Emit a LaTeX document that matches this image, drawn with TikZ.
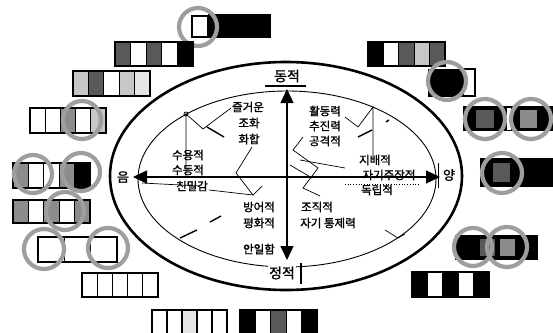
\documentclass[tikz,border=0pt]{standalone}
\usepackage{fontspec}
\newfontfamily\kr{Noto Sans CJK KR}[FakeBold=1.3]
\usetikzlibrary{arrows.meta}
\definecolor{dk}{gray}{0.35}
\definecolor{md}{gray}{0.55}
\definecolor{lt}{gray}{0.78}
\definecolor{vlt}{gray}{0.9}
\definecolor{ringc}{gray}{0.62}
\newcommand\swrow[5]{%
  \foreach \c [count=\i from 0] in {#5} {
    \filldraw[fill=\c, draw=black, line width=1.3] ({#1+\i*#3},#2) rectangle ++(#3,#4);
  }}
\tikzset{
  ring/.style={draw=ringc, line width=4.2},
  lbl/.style={font=\kr\fontsize{11.5}{15}\selectfont, inner sep=0.5pt, align=center},
  axislbl/.style={font=\kr\fontsize{14}{16}\selectfont, inner sep=1pt},
  sidelbl/.style={font=\kr\fontsize{13}{15}\selectfont, inner sep=1pt, fill=white},
  axisline/.style={line width=1.2, -{Triangle[length=14pt,width=13pt]}},
  scrib/.style={line width=0.7},
  dashmark/.style={line width=1.4},
}
\begin{document}
\begin{tikzpicture}[x=1pt,y=-1pt]
\useasboundingbox (0,0) rectangle (553,332);
\fill[white] (0,0) rectangle (553,332);

% ---- ellipses
\draw[line width=2.6] (286,176) ellipse [x radius=176, y radius=114];
\draw[line width=0.9] (287,179) ellipse [x radius=149, y radius=88];

% ---- scribble connectors
\draw[scrib] (231,108) -- (203,129) -- (186,114) -- (186,178);
\draw[scrib] (186,114) circle (2);
\draw[dashmark] (207,127) -- (224,137);
\draw[scrib] (252,147) -- (236,173) -- (253,195);
\draw[scrib] (209,190) -- (253,195) -- (262,186);
\draw[scrib] (142,183) -- (200,186);
\draw[scrib] (303,137) -- (293,150) -- (318,168) -- (303,188) -- (320,196);
\draw[scrib] (290,165) -- (312,178);
\draw[scrib] (345,117) -- (358,127) -- (373,107) -- (373,160);
\draw[dashmark] (358,137) -- (372,130);
\draw[dashmark] (386,122) -- (389,120);
\draw[scrib, dotted, line width=1] (345,184) -- (420,184);
\draw[scrib] (300,160) -- (345,168);
\draw[dashmark] (180,238) -- (197,230);
\draw[dashmark] (210,222) -- (221,216);
\draw[scrib] (385,230) -- (398,238) -- (405,234);

% ---- axes
\coordinate (o) at (287,177);
\coordinate (up) at (287,89);
\coordinate (dn) at (287,260);
\coordinate (lf) at (133,177);
\coordinate (rt) at (440,177);
\draw[axisline] (o) -- (up);
\draw[axisline] (o) -- (dn);
\draw[axisline] (o) -- (lf);
\draw[axisline] (o) -- (rt);

% ---- axis labels
\node[axislbl, fill=white] (dong) at (287,76) {동적};
\draw[line width=1.3] (265,86) -- (306,86);
\node[axislbl, fill=white] (jeong) at (282,273) {정적};
\draw[line width=1.3] (301,263) -- (301,284);
\node[sidelbl] (eum) at (123,177) {음};
\node[sidelbl] (yang) at (449,175) {양};
\draw[line width=1] (438,163) -- (438,188);

% ---- inner texts
\node[lbl] (t1) at (248,107) {즐거운};
\node[lbl] (t2) at (249,123) {조화};
\node[lbl] (t3) at (249,139) {화합};
\node[lbl] (t4) at (188,155) {수용적};
\node[lbl] (t5) at (188,170) {수동적};
\node[lbl] (t6) at (192,186) {친밀감};
\node[lbl] (t7) at (325,111) {활동력};
\node[lbl] (t8) at (325,126) {추진력};
\node[lbl] (t9) at (325,141) {공격적};
\node[lbl] (t10) at (375,160) {지배적};
\node[lbl] (t11) at (389,175) {자기주장적};
\node[lbl] (t12) at (377,190) {독립적};
\node[lbl] (t13) at (259,207) {방어적};
\node[lbl] (t14) at (259,223) {평화적};
\node[lbl] (t15) at (317,207) {조직적};
\node[lbl] (t16) at (328,223) {자기 통제력};
\node[lbl] (t17) at (259,249) {안일함};

% ---- colour swatches, left side
\filldraw[fill=black, draw=black] (208,14) rectangle (270,37);
\filldraw[fill=white, draw=black, line width=1.3] (192,16) rectangle (208,37);
\draw[ring] (198,27) circle (19);

\swrow{115}{42}{15.6}{24}{dk,white,dk,white,black}
\swrow{73}{71}{15.4}{25}{lt,dk,white,lt,vlt}
\swrow{30}{108}{15.2}{25}{white,white,md,white,lt}
\draw[ring] (82,120) circle (19);

\swrow{13}{163}{15.4}{25}{md,white,white,md,black}
\draw[ring] (33,174) circle (19);
\draw[ring] (81,172) circle (19);

\swrow{13}{200}{15.4}{23}{md,white,md,white,md}
\draw[ring] (65,211) circle (19);

\swrow{38}{237}{26.3}{25}{white,white,white}
\draw[ring] (44,249) circle (20);
\draw[ring] (108,248) circle (20);

\swrow{82}{273}{15.2}{24}{white,white,white,white,white}
\swrow{152}{310}{15}{24}{white,white,vlt,white,white}
\swrow{240}{310}{15.4}{24}{black,white,dk,white,black}

% ---- colour swatches, right side
\swrow{368}{42}{15.4}{24}{black,white,dk,lt,dk}

\filldraw[fill=black, draw=black] (428,69) rectangle (463,96);
\filldraw[fill=white, draw=black, line width=1.3] (463,69) rectangle (475,96);
\draw[ring] (447,81) circle (19);

\fill[black] (463,106) rectangle (553,131);
\fill[dk] (476,110) rectangle (494,128);
\fill[white] (507,108) rectangle (511,130);
\fill[md] (520,110) rectangle (537,128);
\draw[ring] (485,119) circle (20);
\draw[ring] (531,119) circle (20);

\fill[black] (480,158) rectangle (553,187);
\fill[dk] (493,163) rectangle (510,182);
\draw[ring] (502,173) circle (20);

\fill[black] (455,235) rectangle (538,260);
\fill[dk] (480,239) rectangle (495,256);
\fill[md] (500,239) rectangle (515,256);
\draw[ring] (473,247) circle (19);
\draw[ring] (507,247) circle (20);

\swrow{412}{272}{15.4}{25}{black,white,black,white,black}
\end{tikzpicture}
\end{document}
